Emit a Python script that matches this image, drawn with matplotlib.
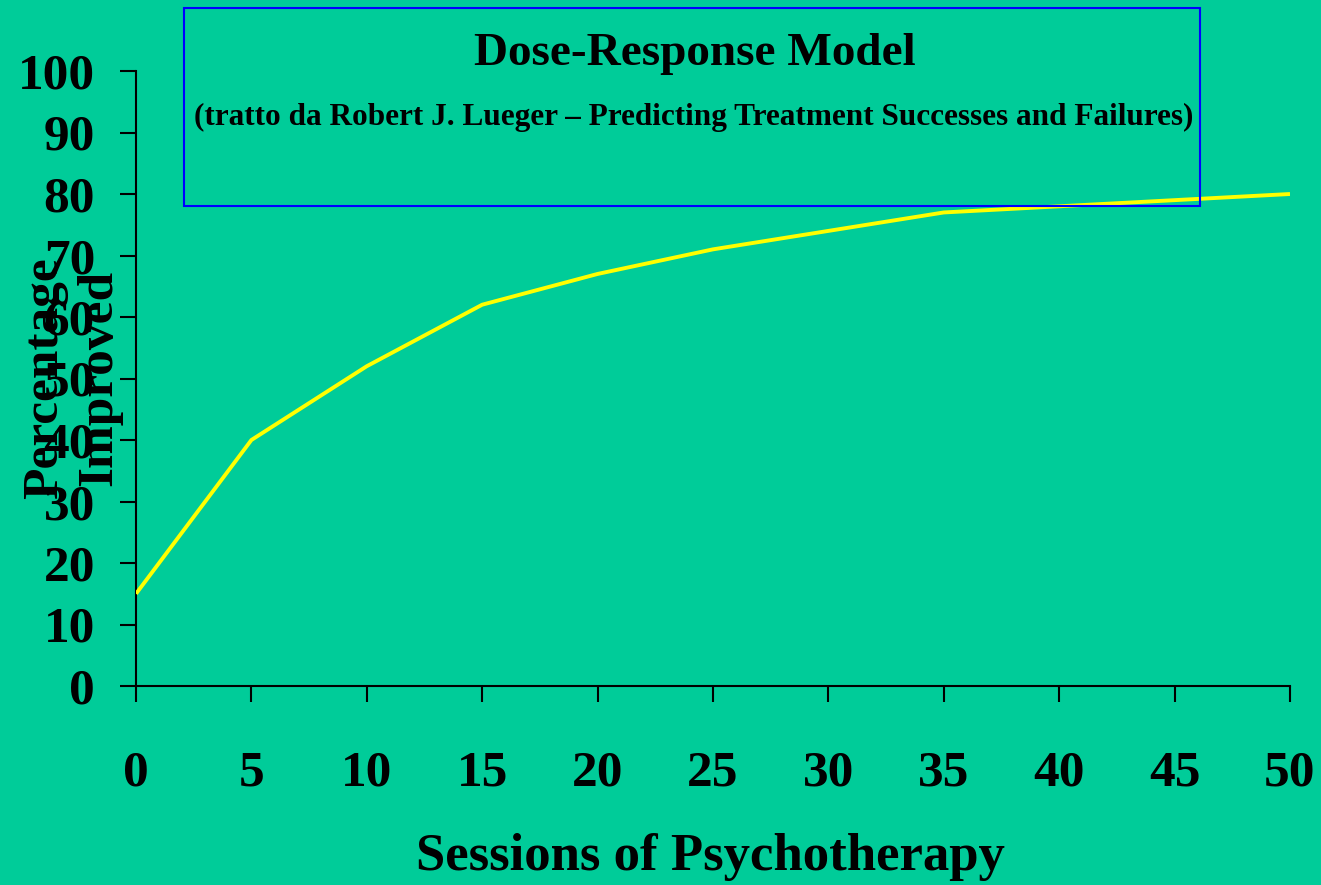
import matplotlib
matplotlib.use("Agg")
import matplotlib.pyplot as plt
from matplotlib.patches import Rectangle

# Dati (sessioni vs percentuale migliorata)
sessions = [0, 5, 10, 15, 20, 25, 30, 35, 40, 45, 50]
pct_improved = [15, 40, 52, 62, 67, 71, 74, 77, 78, 79, 80]

x_ticks = [0, 5, 10, 15, 20, 25, 30, 35, 40, 45, 50]
y_ticks = [0, 10, 20, 30, 40, 50, 60, 70, 80, 90, 100]

title = "Dose-Response Model"
subtitle = "(tratto da Robert J. Lueger \u2013 Predicting Treatment Successes and Failures)"
x_label = "Sessions of Psychotherapy"
y_label = "Percentage\nImproved"

bg = "#00CC99"
W, H = 1321, 885

plt.rcParams["font.family"] = ["Liberation Serif", "DejaVu Serif"]
plt.rcParams["font.weight"] = "bold"

fig = plt.figure(figsize=(W / 100, H / 100), dpi=100, facecolor=bg)
ax = fig.add_axes([136 / W, 1 - 686 / H, (1290 - 136) / W, (686 - 71) / H])
ax.set_facecolor(bg)

ax.plot(sessions, pct_improved, color="#FFFF00", linewidth=2.8, solid_capstyle="butt", zorder=3)

ax.set_xlim(0, 50)
ax.set_ylim(0, 100)
ax.set_xticks(x_ticks)
ax.set_yticks(y_ticks)
ax.tick_params(axis="both", direction="out", length=11.5, width=1.5, colors="black", labelsize=37)
ax.tick_params(axis="x", pad=35)
ax.tick_params(axis="y", pad=18)
for lab in ax.get_xticklabels() + ax.get_yticklabels():
    lab.set_fontweight("bold")

for side in ["top", "right"]:
    ax.spines[side].set_visible(False)
for side in ["left", "bottom"]:
    ax.spines[side].set_linewidth(1.5)
    ax.spines[side].set_color("black")
ax.spines["left"].set_zorder(1)

# riquadro blu del titolo
box = Rectangle((184 / W, 1 - 206 / H), (1200 - 184) / W, (206 - 8) / H,
                transform=fig.transFigure, fill=False, edgecolor="#0000FF",
                linewidth=1.5, zorder=5)
fig.patches.append(box)

fig.text(695 / W, 1 - 54 / H, title, ha="center", va="center",
         fontsize=34, fontweight="bold")
fig.text(694 / W, 1 - 117 / H, subtitle, ha="center", va="center",
         fontsize=22.5, fontweight="bold")

fig.text(710 / W, 1 - 857 / H, x_label, ha="center", va="center",
         fontsize=38, fontweight="bold")
fig.text(72 / W, 1 - 378 / H, y_label, ha="center", va="center",
         rotation=90, multialignment="center", linespacing=1.25,
         fontsize=37, fontweight="bold")

fig.savefig("out.png", dpi=100, facecolor=bg)
